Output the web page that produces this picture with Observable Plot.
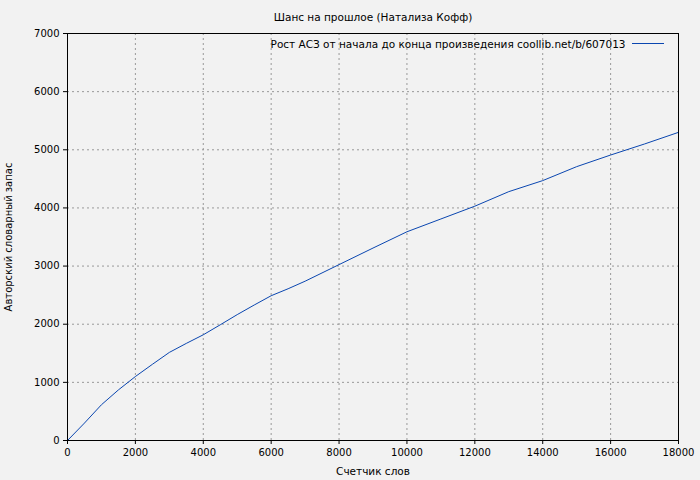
<!DOCTYPE html>
<html>
<head>
<meta charset="utf-8">
<script src="https://cdn.jsdelivr.net/npm/d3@7"></script>
<script src="https://cdn.jsdelivr.net/npm/@observablehq/plot@0.6"></script>
<style>
  html, body { margin: 0; padding: 0; background: #f2f2f2; }
  #chart svg { display: block; }
</style>
</head>
<body>
<div id="chart"></div>
<script>
const words = [0, 500, 1000, 1500, 2000, 2500, 3000, 3500, 4000, 4500, 5000, 5500, 6000, 6500, 7000, 8000, 9000, 10000, 11000, 12000, 13000, 14000, 15000, 16000, 17000, 18000];
const vocab = [0, 300, 615, 870, 1100, 1310, 1515, 1670, 1818, 1990, 2165, 2330, 2490, 2610, 2740, 3025, 3310, 3590, 3810, 4030, 4280, 4470, 4710, 4910, 5100, 5300];
const xTicks = [0, 2000, 4000, 6000, 8000, 10000, 12000, 14000, 16000, 18000];
const yTicks = [0, 1000, 2000, 3000, 4000, 5000, 6000, 7000];
const titleText = "Шанс на прошлое (Натализа Кофф)";
const legendText = "Рост АСЗ от начала до конца произведения coollib.net/b/607013";
const xLabel = "Счетчик слов";
const yLabel = "Авторский словарный запас";

const data = words.map((w, i) => ({x: w, y: vocab[i]}));
const lineColor = "#0a46b0";

const plot = Plot.plot({
  width: 700,
  height: 480,
  marginLeft: 67,
  marginRight: 22,
  marginTop: 33,
  marginBottom: 40,
  style: {background: "#f2f2f2", fontFamily: "DejaVu Sans", fontSize: "10px", color: "#000", overflow: "visible"},
  x: {domain: [0, 18000], ticks: xTicks, tickSize: 4, tickPadding: 4, label: xLabel, labelAnchor: "center", labelArrow: "none", labelOffset: 34, tickFormat: d => String(d)},
  y: {domain: [0, 7000], ticks: yTicks, tickSize: 4, tickPadding: 4, label: yLabel, labelAnchor: "center", labelArrow: "none", labelOffset: 63, tickFormat: d => String(d)},
  marks: [
    Plot.ruleX(xTicks.slice(1, -1), {stroke: "#999", strokeDasharray: "2,3", strokeWidth: 1}),
    Plot.ruleY(yTicks.slice(1, -1), {stroke: "#999", strokeDasharray: "2,3", strokeWidth: 1}),
    Plot.line(data, {x: "x", y: "y", stroke: lineColor, strokeWidth: 1}),
    Plot.frame({stroke: "#000", strokeWidth: 1}),
    Plot.text([legendText], {frameAnchor: "top-right", dx: -53, dy: 7, textAnchor: "end", fontSize: 10.5, fill: "#000"}),
    Plot.text([titleText], {frameAnchor: "top", dy: -20, fontSize: 10.5, fill: "#000"})
  ]
});

// legend sample line
const svg = d3.select(plot);
svg.append("line")
  .attr("x1", 632).attr("x2", 664)
  .attr("y1", 43.5).attr("y2", 43.5)
  .attr("stroke", lineColor).attr("stroke-width", 1);

svg.selectAll("[aria-label='x-axis label'] text").attr("font-size", 10.5);
svg.selectAll("[aria-label='y-axis label'] text").attr("font-size", 10);

document.getElementById("chart").appendChild(plot);
</script>
</body>
</html>
